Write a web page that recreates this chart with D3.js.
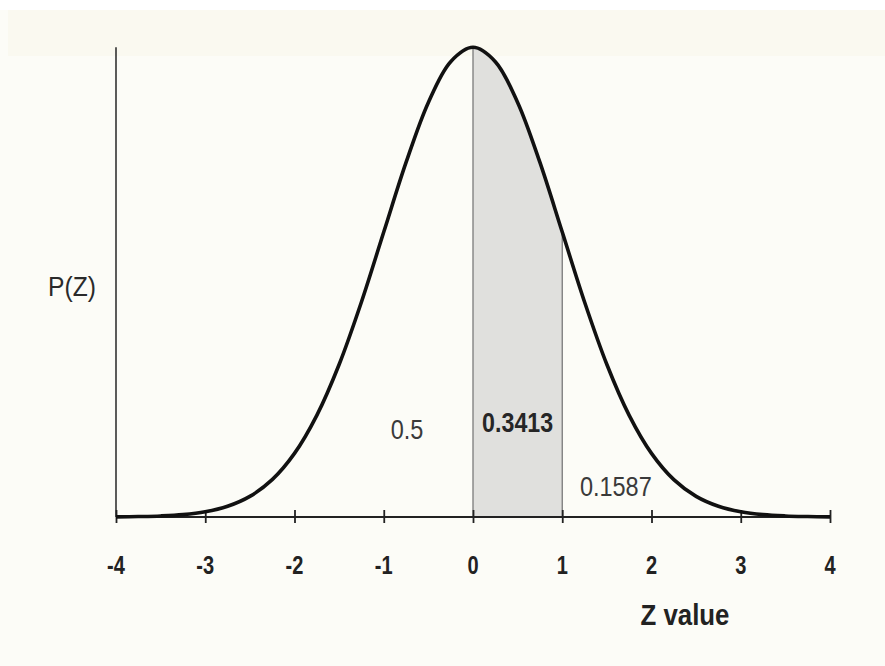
<!DOCTYPE html>
<html>
<head>
<meta charset="utf-8">
<script src="https://cdn.jsdelivr.net/npm/d3@7"></script>
<style>
  html, body { margin: 0; padding: 0; background: #ffffff; }
  svg { display: block; }
</style>
</head>
<body>
<svg id="chart" width="885" height="666"></svg>
<script>
// Standard normal density P(Z), sampled every 0.25
const zValues = [-4, -3.75, -3.5, -3.25, -3, -2.75, -2.5, -2.25, -2, -1.75, -1.5, -1.25, -1, -0.75, -0.5, -0.25,
                 0, 0.25, 0.5, 0.75, 1, 1.25, 1.5, 1.75, 2, 2.25, 2.5, 2.75, 3, 3.25, 3.5, 3.75, 4];
const density = [0.0001, 0.0004, 0.0009, 0.0020, 0.0044, 0.0091, 0.0175, 0.0317, 0.0540, 0.0863, 0.1295, 0.1826, 0.2420, 0.3011, 0.3521, 0.3867,
                 0.3989, 0.3867, 0.3521, 0.3011, 0.2420, 0.1826, 0.1295, 0.0863, 0.0540, 0.0317, 0.0175, 0.0091, 0.0044, 0.0020, 0.0009, 0.0004, 0.0001];
const tickValues = [-4, -3, -2, -1, 0, 1, 2, 3, 4];
const tickLabels = ["-4", "-3", "-2", "-1", "0", "1", "2", "3", "4"];
const shadedRange = [0, 1];
const areaLabels = [
  { text: "0.5", z: -0.74, p: 0.0665, bold: false },
  { text: "0.3413", z: 0.50, p: 0.0723, bold: true },
  { text: "0.1587", z: 1.60, p: 0.0178, bold: false }
];

const FONT = "'Liberation Sans', Arial, sans-serif";
const svg = d3.select("#chart");

// paper tone
svg.append("rect").attr("x", 0).attr("y", 0).attr("width", 885).attr("height", 666).attr("fill", "#fcfcf7");
svg.append("rect").attr("x", 0).attr("y", 0).attr("width", 885).attr("height", 10).attr("fill", "#ffffff");
svg.append("rect").attr("x", 8).attr("y", 10).attr("width", 877).attr("height", 46).attr("fill", "#faf9f0");

const x = d3.scaleLinear().domain([-4, 4]).range([116, 830]);
const y = d3.scaleLinear().domain([0, 0.4]).range([517, 46]);

// narrow-looking text: regular face squeezed horizontally
function narrowText(g, tx, ty, str, opts) {
  return g.append("text")
    .attr("transform", `translate(${tx},${ty}) scale(${opts.sx},1)`)
    .attr("text-anchor", opts.anchor || "middle")
    .attr("font-family", FONT)
    .attr("font-weight", opts.bold ? "bold" : "normal")
    .attr("font-size", opts.size)
    .attr("fill", opts.fill || "#262626")
    .text(str);
}

const pts = zValues.map((z, i) => ({ z, p: density[i] }));
const shadedPts = pts.filter(d => d.z >= shadedRange[0] && d.z <= shadedRange[1]);

// shaded area between 0 and 1
svg.append("path")
  .datum(shadedPts)
  .attr("d", d3.area().x(d => x(d.z)).y0(y(0)).y1(d => y(d.p)).curve(d3.curveCatmullRom))
  .attr("fill", "#e0e0dd");

// boundaries of the shaded area
shadedRange.forEach(z => {
  const p = density[zValues.indexOf(z)];
  svg.append("line")
    .attr("x1", x(z)).attr("x2", x(z))
    .attr("y1", y(p)).attr("y2", y(0))
    .attr("stroke", "#7a7a7a").attr("stroke-width", 1.3);
});

// y axis line
svg.append("line")
  .attr("x1", x(-4)).attr("x2", x(-4))
  .attr("y1", y(0.399)).attr("y2", y(0))
  .attr("stroke", "#333").attr("stroke-width", 1.6);

// x axis with ticks crossing the line
const xAxis = svg.append("g").attr("transform", `translate(0,${y(0)})`)
  .call(d3.axisBottom(x).tickValues(tickValues).tickSize(6).tickFormat(() => ""));
xAxis.select(".domain").attr("stroke", "#222").attr("stroke-width", 1.8).attr("d", `M${x(-4)},0H${x(4)}`);
xAxis.selectAll(".tick line").attr("y1", -7).attr("y2", 6).attr("stroke", "#222").attr("stroke-width", 1.8);
xAxis.selectAll(".tick text").remove();
tickValues.forEach((v, i) => {
  narrowText(svg, x(v), 574, tickLabels[i], { size: 25, sx: 0.8, bold: true, fill: "#222" });
});

// density curve
svg.append("path")
  .datum(pts)
  .attr("d", d3.line().x(d => x(d.z)).y(d => y(d.p)).curve(d3.curveCatmullRom))
  .attr("fill", "none")
  .attr("stroke", "#111")
  .attr("stroke-width", 3.6)
  .attr("stroke-linejoin", "round");

// area labels
areaLabels.forEach(l => {
  narrowText(svg, x(l.z), y(l.p), l.text, {
    size: 27, sx: l.bold ? 0.86 : 0.87, bold: l.bold, fill: l.bold ? "#262626" : "#3a3a3a"
  });
});

// axis titles
narrowText(svg, 48, 296, "P(Z)", { size: 28, sx: 0.88, anchor: "start", fill: "#2a2a2a" });
narrowText(svg, 685, 625, "Z value", { size: 30, sx: 0.86, bold: true, fill: "#222" });
</script>
</body>
</html>
